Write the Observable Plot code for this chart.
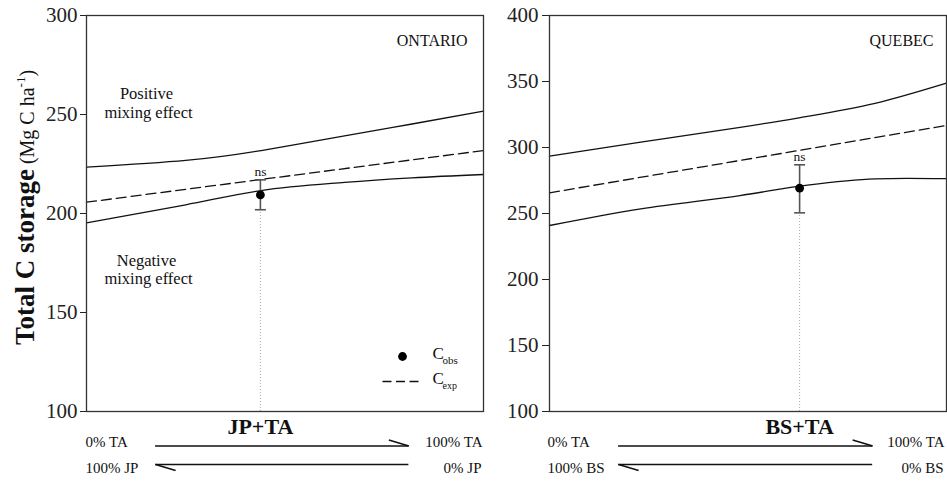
<!DOCTYPE html>
<html><head><meta charset="utf-8">
<script src="https://cdn.jsdelivr.net/npm/d3@7"></script>
<script src="https://cdn.jsdelivr.net/npm/@observablehq/plot@0.6"></script>
<style>
body{margin:0;background:#fff;}
#chart{display:flex;width:947px;height:481px;}
svg{overflow:visible;}
</style></head><body><div id="chart"></div>
<script>
// ---- data ----
const regions = ["ONTARIO", "QUEBEC"];
const mixtures = ["JP+TA", "BS+TA"];
const conifers = ["JP", "BS"];
const broadleaf = "TA";
const yLabelParts = ["Total C storage", " (Mg C ha", "-1", ")"];
const legendLabels = ["C", "obs", "C", "exp"];
const signifLabels = ["ns", "ns"];
const effectLabels = ["Positive", "mixing effect", "Negative", "mixing effect"];

const onUpperX = [0, 0.25, 0.44, 0.65, 0.82, 1];
const onUpper = [223.4, 226.8, 231.8, 239.2, 245.2, 251.7];
const onLowerX = [0, 0.25, 0.44, 0.65, 0.82, 1];
const onLower = [195.3, 204.4, 211.6, 215.7, 218.0, 219.7];
const qcUpperX = [0, 0.23, 0.48, 0.65, 0.82, 1];
const qcUpper = [293.4, 304.0, 315.2, 323.6, 333.4, 348.7];
const qcLowerX = [0, 0.23, 0.48, 0.65, 0.82, 0.9, 1];
const qcLower = [240.9, 253.5, 263.6, 271.5, 276.2, 276.6, 276.4];
const expX = [0, 1];
const onExpected = [205.7, 231.8];
const qcExpected = [265.7, 316.7];
const obsX = [0.438, 0.63];
const obsMean = [209.4, 269.2];
const obsLow = [201.9, 250.5];
const obsHigh = [217.0, 286.9];
const onTicks = [100, 150, 200, 250, 300];
const qcTicks = [100, 150, 200, 250, 300, 350, 400];
const arrowFrom = [0.174, 0.174];
const arrowTo = [0.812, 0.814];

// ---- helpers ----
const hLine = {draw(ctx, size) { const r = Math.sqrt(size / Math.PI); ctx.moveTo(-r, 0); ctx.lineTo(r, 0); }};
const headUp = {draw(ctx) { ctx.moveTo(0, 0); ctx.lineTo(-20, -6); }};
const headDown = {draw(ctx) { ctx.moveTo(0, 0); ctx.lineTo(20, 6); }};
const INK = "#111";
const serif = "'Liberation Serif', 'Times New Roman', serif";

function panel(i, cfg) {
  const upper = cfg.upperX.map((x, k) => ({x, y: cfg.upper[k]}));
  const lower = cfg.lowerX.map((x, k) => ({x, y: cfg.lower[k]}));
  const exp = expX.map((x, k) => ({x, y: cfg.expected[k]}));
  const obs = [{x: obsX[i], y: obsMean[i], lo: obsLow[i], hi: obsHigh[i]}];
  const yMin = cfg.ticks[0], yMax = cfg.ticks[cfg.ticks.length - 1];
  const arrows = [{x1: arrowFrom[i], x2: arrowTo[i]}];
  const txt = {fill: INK, lineAnchor: "bottom", fontFamily: serif};
  const marks = [
    Plot.ruleX(obs, {x: "x", y1: yMin, y2: "lo", stroke: "#aaa", strokeWidth: 1, strokeDasharray: "1,2"}),
    Plot.line(upper, {x: "x", y: "y", curve: "natural", stroke: INK, strokeWidth: 1.3}),
    Plot.line(lower, {x: "x", y: "y", curve: "monotone-x", stroke: INK, strokeWidth: 1.3}),
    Plot.line(exp, {x: "x", y: "y", stroke: INK, strokeWidth: 1.3, strokeDasharray: "10,5"}),
    Plot.ruleX(obs, {x: "x", y1: "lo", y2: "hi", stroke: "#555", strokeWidth: 1.6}),
    Plot.dot(obs, {x: "x", y: "lo", symbol: hLine, r: 5.5, stroke: "#555", strokeWidth: 1.6, fill: "none"}),
    Plot.dot(obs, {x: "x", y: "hi", symbol: hLine, r: 5.5, stroke: "#555", strokeWidth: 1.6, fill: "none"}),
    Plot.dot(obs, {x: "x", y: "y", r: 4.4, fill: "black", stroke: "none"}),
    Plot.text(obs, {x: "x", y: "hi", text: () => signifLabels[i], dy: -3.5, fontSize: 13.5, ...txt}),
    Plot.text([regions[i]], {frameAnchor: "top-right", dx: cfg.regionDx, dy: 30, textAnchor: "end", fontSize: 16, ...txt}),
    Plot.text(obs, {x: "x", frameAnchor: "bottom", text: () => mixtures[i], dy: 22, fontSize: 22, fontWeight: "bold", ...txt}),
    Plot.text([`0% ${broadleaf}`], {frameAnchor: "bottom-left", dx: cfg.leftDx, dy: 35, textAnchor: "start", fontSize: 15, ...txt}),
    Plot.text([`100% ${conifers[i]}`], {frameAnchor: "bottom-left", dx: cfg.leftDx, dy: 61.5, textAnchor: "start", fontSize: 15, ...txt}),
    Plot.text([`100% ${broadleaf}`], {frameAnchor: "bottom-right", dx: cfg.rightDx, dy: 35, textAnchor: "end", fontSize: 15, ...txt}),
    Plot.text([`0% ${conifers[i]}`], {frameAnchor: "bottom-right", dx: cfg.rightDx - 1, dy: 61.5, textAnchor: "end", fontSize: 15, ...txt}),
    Plot.ruleY(arrows, {x1: "x1", x2: "x2", y: yMin, dy: 34.5, stroke: INK, strokeWidth: 1.6}),
    Plot.ruleY(arrows, {x1: "x1", x2: "x2", y: yMin, dy: 53, stroke: INK, strokeWidth: 1.6}),
    Plot.dot(arrows, {x: "x2", frameAnchor: "bottom", dy: 34.5, symbol: headUp, stroke: INK, strokeWidth: 1.6, fill: "none"}),
    Plot.dot(arrows, {x: "x1", frameAnchor: "bottom", dy: 53, symbol: headDown, stroke: INK, strokeWidth: 1.6, fill: "none"}),
    Plot.frame({stroke: "#333", strokeWidth: 1.3})
  ];
  if (i === 0) {
    marks.push(
      Plot.text([effectLabels[0]], {frameAnchor: "top-left", dx: 60, dy: 83, textAnchor: "middle", fontSize: 16.5, ...txt}),
      Plot.text([effectLabels[1]], {frameAnchor: "top-left", dx: 62, dy: 102, textAnchor: "middle", fontSize: 16.5, ...txt}),
      Plot.text([effectLabels[2]], {frameAnchor: "top-left", dx: 60, dy: 250, textAnchor: "middle", fontSize: 16.5, ...txt}),
      Plot.text([effectLabels[3]], {frameAnchor: "top-left", dx: 62, dy: 268, textAnchor: "middle", fontSize: 16.5, ...txt}),
      Plot.dot([0], {frameAnchor: "bottom-right", dx: -81, dy: -55, r: 4.4, fill: "black", stroke: "none"}),
      Plot.dot([0], {frameAnchor: "bottom-right", dx: -83, dy: -30, r: 18, symbol: hLine, stroke: INK, strokeWidth: 1.3, strokeDasharray: "9,4.5", fill: "none"}),
      Plot.text([legendLabels[0]], {frameAnchor: "bottom-right", dx: -51, dy: -53, textAnchor: "start", fontSize: 17, ...txt}),
      Plot.text([legendLabels[1]], {frameAnchor: "bottom-right", dx: -41, dy: -48, textAnchor: "start", fontSize: 11, ...txt}),
      Plot.text([legendLabels[2]], {frameAnchor: "bottom-right", dx: -51, dy: -28, textAnchor: "start", fontSize: 17, ...txt}),
      Plot.text([legendLabels[3]], {frameAnchor: "bottom-right", dx: -41, dy: -23, textAnchor: "start", fontSize: 10, ...txt}),
      Plot.text([yLabelParts.join("")], {frameAnchor: "left", dx: -53, dy: -6, rotate: -90, textAnchor: "middle", fontSize: 20, ...txt})
    );
  }
  const svg = Plot.plot({
    width: cfg.width, height: 481,
    marginTop: 15, marginBottom: 70, marginLeft: cfg.marginLeft, marginRight: cfg.marginRight,
    x: {domain: [0, 1], axis: null},
    y: {domain: [yMin, yMax], ticks: cfg.ticks, tickSize: cfg.tickSize, tickPadding: cfg.tickPadding, label: null, tickFormat: d => String(d)},
    style: {fontFamily: serif, fontSize: "21px", color: "#222", background: "white", overflow: "visible"},
    marks
  });
  if (i === 0) {
    const full = yLabelParts.join("");
    d3.select(svg).selectAll("text").filter(function() { return this.textContent === full; }).each(function() {
      const t = d3.select(this);
      t.text(null);
      t.append("tspan").attr("font-weight", "bold").attr("font-size", 27).text(yLabelParts[0]);
      t.append("tspan").attr("font-size", 20).text(yLabelParts[1]);
      t.append("tspan").attr("font-size", 13).attr("dy", -9).text(yLabelParts[2]);
      t.append("tspan").attr("font-size", 20).attr("dy", 9).text(yLabelParts[3]);
    });
  }
  return svg;
}

const chart = document.getElementById("chart");
chart.appendChild(panel(0, {upperX: onUpperX, upper: onUpper, lowerX: onLowerX, lower: onLower, expected: onExpected, ticks: onTicks,
  width: 485, marginLeft: 86, marginRight: 2, tickSize: 6, tickPadding: 3, regionDx: -16, leftDx: -1, rightDx: -1}));
chart.appendChild(panel(1, {upperX: qcUpperX, upper: qcUpper, lowerX: qcLowerX, lower: qcLower, expected: qcExpected, ticks: qcTicks,
  width: 462, marginLeft: 64, marginRight: 1, tickSize: 7, tickPadding: 4, regionDx: -13, leftDx: -2, rightDx: -2}));
</script></body></html>
